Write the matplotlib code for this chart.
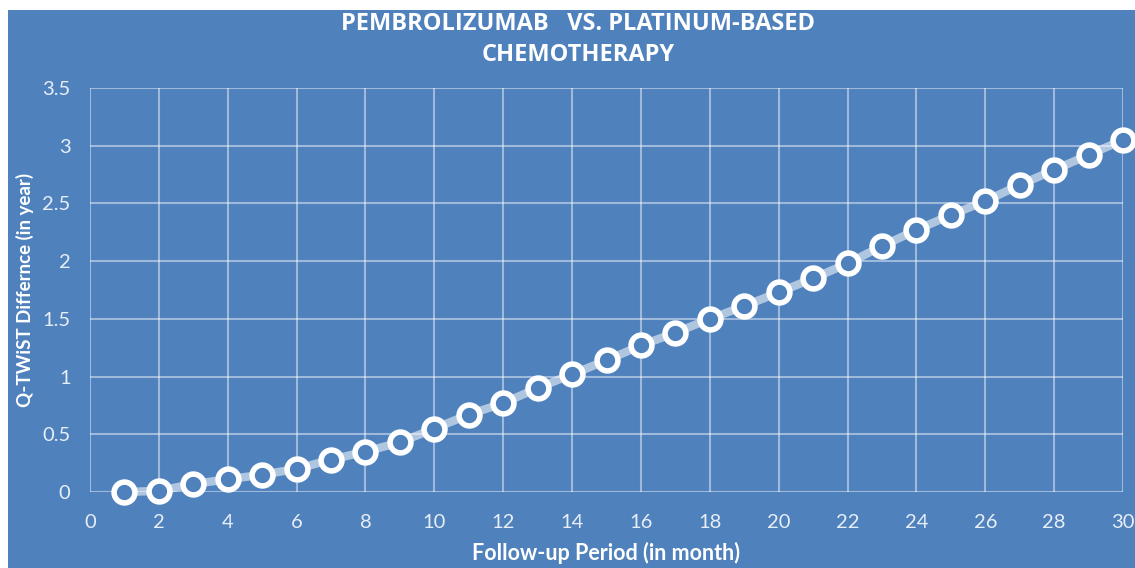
import matplotlib.pyplot as plt
import matplotlib.patches as patches

# follow-up months and Q-TWiST difference (years)
months = list(range(1, 31))
qtwist_diff = [0.00, 0.01, 0.07, 0.11, 0.15, 0.20, 0.28, 0.35, 0.43, 0.55,
               0.67, 0.77, 0.90, 1.02, 1.14, 1.27, 1.38, 1.50, 1.61, 1.73,
               1.85, 1.98, 2.13, 2.27, 2.40, 2.52, 2.66, 2.79, 2.92, 3.05]
x_ticks = list(range(0, 31, 2))
y_ticks = [0, 0.5, 1, 1.5, 2, 2.5, 3, 3.5]
y_tick_labels = ['0', '0.5', '1', '1.5', '2', '2.5', '3', '3.5']

blue = '#4f81bd'
plt.rcParams['font.family'] = ['Lato', 'DejaVu Sans']

fig = plt.figure(figsize=(11.35, 5.68), dpi=100, facecolor='white')
fig.patches.append(patches.Rectangle((8 / 1135, 0), 1, 1 - 10 / 568,
                                     transform=fig.transFigure,
                                     facecolor=blue, edgecolor='none', zorder=-10))

ax = fig.add_axes([90 / 1135, 1 - 492 / 568, 1033 / 1135, 404 / 568])
ax.set_facecolor(blue)
ax.patch.set_alpha(0)

ax.plot(months, qtwist_diff, color='white', alpha=0.55, lw=6,
        solid_capstyle='round', zorder=3, clip_on=False)
ax.plot(months, qtwist_diff, ls='none', marker='o', ms=15, mew=4,
        mec='white', mfc=blue, zorder=4, clip_on=False)

ax.set_xlim(0, 30)
ax.set_ylim(0, 3.5)
ax.set_xticks(x_ticks)
ax.set_yticks(y_ticks)
ax.set_yticklabels(y_tick_labels)
ax.grid(True, color='white', alpha=0.45, lw=1.5)
ax.set_axisbelow(True)
for s in ax.spines.values():
    s.set_visible(False)
ax.tick_params(length=0, colors='#e8eef7', labelsize=14.5)
ax.tick_params(axis='x', pad=16)
ax.tick_params(axis='y', pad=14)

ax.set_xlabel('Follow-up Period (in month)', color='white', fontsize=15.5,
              fontweight='bold', labelpad=8)
ax.set_ylabel('Q-TWiST Differnce (in year)', color='white', fontsize=13.5,
              fontweight='bold', labelpad=6)

fig.text(578 / 1135, 1 - 24 / 568, 'PEMBROLIZUMAB   VS. PLATINUM-BASED',
         ha='center', va='center', color='white', fontsize=17,
         fontweight='bold', family=['Open Sans', 'DejaVu Sans'])
fig.text(578 / 1135, 1 - 55 / 568, 'CHEMOTHERAPY',
         ha='center', va='center', color='white', fontsize=17,
         fontweight='bold', family=['Open Sans', 'DejaVu Sans'])

fig.savefig('out.png', dpi=100, facecolor='white')
